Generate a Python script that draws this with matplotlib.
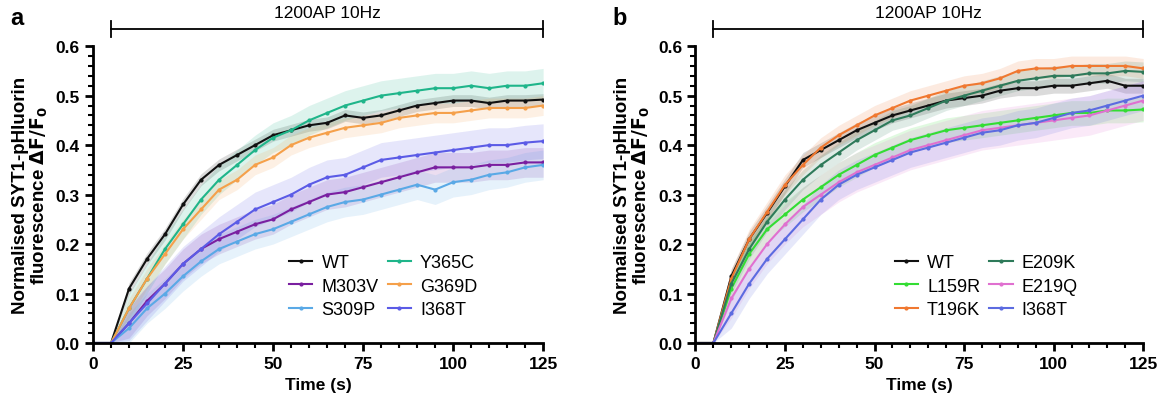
import numpy as np
import matplotlib
matplotlib.use("Agg")
import matplotlib.pyplot as plt
from matplotlib.ticker import MultipleLocator

plt.rcParams['font.family'] = ['Liberation Sans', 'DejaVu Sans']

# Temps (s), un point toutes les 5 s
time = [0, 5, 10, 15, 20, 25, 30, 35, 40, 45, 50, 55, 60, 65, 70, 75, 80,
        85, 90, 95, 100, 105, 110, 115, 120, 125]

# Panneau a
a_names = ["WT", "M303V", "S309P", "Y365C", "G369D", "I368T"]
a_colors = ["#111111", "#7a1fa0", "#5aa9e6", "#1fb58a", "#f5a04a", "#5b5be6"]
a_wt = [0, 0, 0.11, 0.17, 0.22, 0.28, 0.33, 0.36, 0.38, 0.40, 0.42, 0.43, 0.44,
        0.445, 0.46, 0.455, 0.46, 0.47, 0.48, 0.485, 0.49, 0.49, 0.485, 0.49, 0.49, 0.492]
a_m303v = [0, 0, 0.04, 0.085, 0.12, 0.16, 0.19, 0.21, 0.225, 0.24, 0.25, 0.27, 0.285,
           0.30, 0.305, 0.315, 0.325, 0.335, 0.345, 0.355, 0.355, 0.355, 0.36, 0.36, 0.365, 0.365]
a_s309p = [0, 0, 0.03, 0.07, 0.10, 0.135, 0.165, 0.19, 0.205, 0.22, 0.23, 0.245, 0.26,
           0.275, 0.285, 0.29, 0.30, 0.31, 0.32, 0.31, 0.325, 0.33, 0.34, 0.345, 0.355, 0.36]
a_y365c = [0, 0, 0.07, 0.13, 0.19, 0.24, 0.29, 0.33, 0.36, 0.39, 0.415, 0.43, 0.45,
           0.465, 0.48, 0.49, 0.50, 0.505, 0.51, 0.515, 0.515, 0.52, 0.515, 0.52, 0.52, 0.525]
a_g369d = [0, 0, 0.07, 0.13, 0.18, 0.23, 0.27, 0.31, 0.33, 0.36, 0.375, 0.40, 0.415,
           0.425, 0.435, 0.44, 0.445, 0.455, 0.46, 0.465, 0.465, 0.47, 0.475, 0.475, 0.475, 0.48]
a_i368t = [0, 0, 0.04, 0.08, 0.12, 0.16, 0.19, 0.22, 0.245, 0.27, 0.285, 0.30, 0.32,
           0.335, 0.34, 0.355, 0.37, 0.375, 0.38, 0.385, 0.39, 0.395, 0.40, 0.40, 0.405, 0.408]
a_sem = [0.012, 0.03, 0.03, 0.03, 0.02, 0.035]

# Panneau b
b_names = ["WT", "L159R", "T196K", "E209K", "E219Q", "I368T"]
b_colors = ["#111111", "#33dd33", "#f07830", "#2e7a5a", "#e070d0", "#5c6be0"]
b_wt = [0, 0, 0.135, 0.21, 0.263, 0.317, 0.37, 0.39, 0.41, 0.43, 0.445, 0.46, 0.47,
        0.48, 0.49, 0.495, 0.50, 0.51, 0.515, 0.515, 0.52, 0.52, 0.525, 0.53, 0.52, 0.52]
b_l159r = [0, 0, 0.11, 0.18, 0.23, 0.26, 0.29, 0.315, 0.34, 0.36, 0.38, 0.395, 0.41,
           0.42, 0.43, 0.435, 0.44, 0.445, 0.45, 0.455, 0.46, 0.465, 0.465, 0.47, 0.47, 0.472]
b_t196k = [0, 0, 0.13, 0.21, 0.265, 0.32, 0.36, 0.395, 0.42, 0.44, 0.46, 0.475, 0.49,
           0.50, 0.51, 0.52, 0.525, 0.535, 0.55, 0.555, 0.555, 0.56, 0.56, 0.56, 0.56, 0.555]
b_e209k = [0, 0, 0.12, 0.19, 0.245, 0.29, 0.33, 0.36, 0.385, 0.41, 0.43, 0.45, 0.46,
           0.475, 0.49, 0.50, 0.51, 0.52, 0.53, 0.535, 0.54, 0.54, 0.545, 0.545, 0.55, 0.548]
b_e219q = [0, 0, 0.09, 0.15, 0.20, 0.24, 0.275, 0.30, 0.325, 0.345, 0.36, 0.375, 0.39,
           0.40, 0.41, 0.42, 0.43, 0.435, 0.44, 0.445, 0.45, 0.455, 0.46, 0.47, 0.48, 0.49]
b_i368t = [0, 0, 0.06, 0.12, 0.17, 0.21, 0.25, 0.29, 0.32, 0.34, 0.355, 0.37, 0.385,
           0.395, 0.405, 0.415, 0.425, 0.43, 0.44, 0.445, 0.455, 0.465, 0.47, 0.48, 0.49, 0.50]
b_sem = [0.015, 0.025, 0.02, 0.02, 0.04, 0.03]


def draw_panel(ax, names, colors, series, sems, letter):
    t = np.array(time)
    for name, col, y, e in zip(names, colors, series, sems):
        y = np.array(y)
        err = np.where(y > 0, e, 0)
        ax.fill_between(t, y - err, y + err, color=col, alpha=0.15, lw=0)
    for name, col, y in zip(names, colors, series):
        ax.plot(t, y, color=col, lw=1.5, marker="o", ms=2, label=name)

    ax.set_xlim(0, 125)
    ax.set_ylim(0, 0.6)
    ax.xaxis.set_major_locator(MultipleLocator(25))
    ax.xaxis.set_minor_locator(MultipleLocator(5))
    ax.yaxis.set_major_locator(MultipleLocator(0.1))
    ax.yaxis.set_minor_locator(MultipleLocator(0.02))
    ax.yaxis.set_major_formatter(lambda v, p: f"{v:.1f}")
    for s in ["top", "right"]:
        ax.spines[s].set_visible(False)
    for s in ["left", "bottom"]:
        ax.spines[s].set_linewidth(2)
    ax.tick_params(which="major", length=6, width=2, labelsize=12.5)
    ax.tick_params(which="minor", length=3.5, width=1.5)
    for lab in ax.get_xticklabels() + ax.get_yticklabels():
        lab.set_fontweight("bold")
    ax.set_xlabel("Time (s)", fontsize=12.5, fontweight="bold")
    ax.set_ylabel("Normalised SYT1-pHluorin\nfluorescence $\\mathbf{\\Delta F/F_0}$",
                  fontsize=13.5, fontweight="bold", linespacing=1.0)

    # barre de stimulation
    ax.plot([5, 125], [0.634, 0.634], color="black", lw=1.3, clip_on=False)
    for xe in [5, 125]:
        ax.plot([xe, xe], [0.618, 0.650], color="black", lw=1.3, clip_on=False)
    ax.text(65, 0.668, "1200AP 10Hz", ha="center", va="center", fontsize=12.5)

    ax.legend(ncol=2, frameon=False, loc="lower right", bbox_to_anchor=(0.87, 0.06),
              fontsize=13, handlelength=1.3, handletextpad=0.5,
              columnspacing=0.5, labelspacing=0.35, borderaxespad=0)
    ax.text(-0.185, 1.135, letter, transform=ax.transAxes, fontsize=17,
            fontweight="bold", va="top")


fig = plt.figure(figsize=(11.63, 4.10), dpi=100)
ax1 = fig.add_axes([0.080, 0.161, 0.387, 0.724])
ax2 = fig.add_axes([0.598, 0.161, 0.385, 0.724])

draw_panel(ax1, a_names, a_colors, [a_wt, a_m303v, a_s309p, a_y365c, a_g369d, a_i368t],
           a_sem, "a")
draw_panel(ax2, b_names, b_colors, [b_wt, b_l159r, b_t196k, b_e209k, b_e219q, b_i368t],
           b_sem, "b")

fig.savefig("out.png", dpi=100)
